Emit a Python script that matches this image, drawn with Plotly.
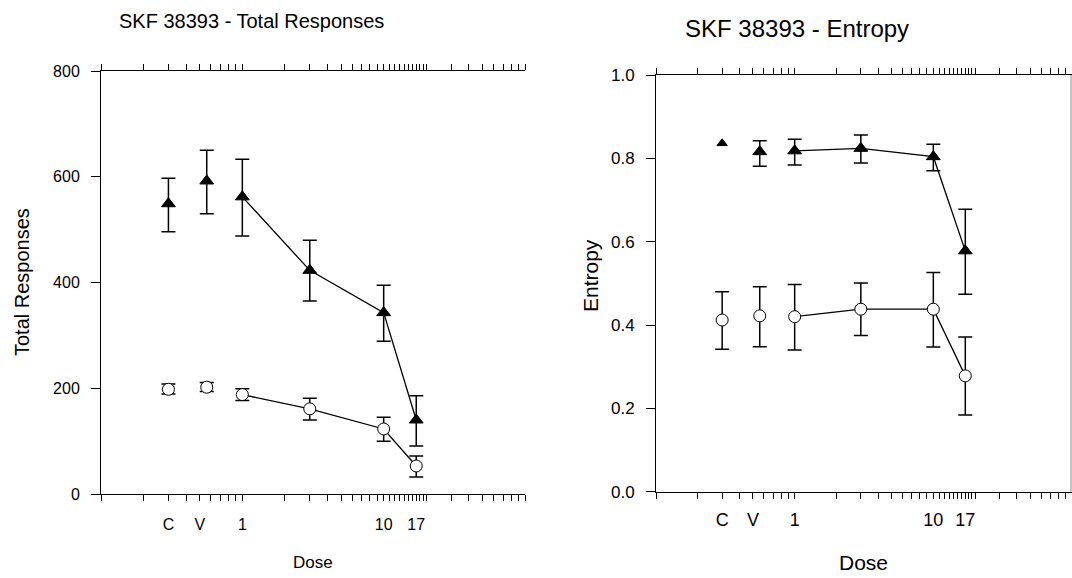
import plotly.graph_objects as go

# ---------------- data ----------------
dose = [0.3, 0.56, 1, 3, 10, 17]          # C, V, 1, 3, 10, 17
x_tick_vals = [0.3, 0.5, 1, 10, 17]
x_tick_text = ["C", "V", "1", "10", "17"]

# Total responses
tr_tri = [549, 592, 562, 423, 343, 140]
tr_tri_hi = [597, 650, 633, 480, 395, 186]
tr_tri_lo = [496, 530, 488, 365, 289, 91]
tr_circ = [198, 202, 188, 161, 123, 53]
tr_circ_hi = [208, 211, 199, 181, 145, 72]
tr_circ_lo = [189, 194, 177, 140, 100, 32]

# Entropy (no error bar on the control triangle)
en_tri = [0.836, 0.816, 0.818, 0.824, 0.804, 0.578]
en_tri_hi = [None, 0.842, 0.846, 0.856, 0.834, 0.678]
en_tri_lo = [None, 0.781, 0.784, 0.789, 0.770, 0.474]
en_circ = [0.412, 0.422, 0.420, 0.438, 0.438, 0.278]
en_circ_hi = [0.480, 0.492, 0.497, 0.501, 0.526, 0.371]
en_circ_lo = [0.342, 0.348, 0.340, 0.375, 0.347, 0.184]

FONT = "Arial, 'Liberation Sans', sans-serif"

minor_vals = ([round(0.1 * i, 2) for i in range(1, 10)] + list(range(2, 10))
              + list(range(11, 20)) + list(range(20, 101, 10)))
minor_vals = [v for v in minor_vals if v not in x_tick_vals]

fig = go.Figure()


def add_series(y, hi, lo, xa, ya, symbol, fill, size, small_size):
    fig.add_trace(go.Scatter(x=dose[2:], y=y[2:], mode="lines", xaxis=xa, yaxis=ya,
                             line=dict(color="black", width=1.3), showlegend=False,
                             hoverinfo="skip"))
    idx_e = [i for i in range(len(dose)) if hi[i] is not None]
    idx_n = [i for i in range(len(dose)) if hi[i] is None]
    fig.add_trace(go.Scatter(
        x=[dose[i] for i in idx_e], y=[y[i] for i in idx_e], mode="markers",
        xaxis=xa, yaxis=ya, showlegend=False,
        marker=dict(symbol=symbol, size=size, color=fill,
                    line=dict(color="black", width=1)),
        error_y=dict(type="data", symmetric=False,
                     array=[hi[i] - y[i] for i in idx_e],
                     arrayminus=[y[i] - lo[i] for i in idx_e],
                     color="black", thickness=1.5, width=7)))
    if idx_n:
        fig.add_trace(go.Scatter(
            x=[dose[i] for i in idx_n], y=[y[i] for i in idx_n], mode="markers",
            xaxis=xa, yaxis=ya, showlegend=False,
            marker=dict(symbol=symbol, size=small_size, color=fill,
                        line=dict(color="black", width=1))))


add_series(tr_tri, tr_tri_hi, tr_tri_lo, "x", "y", "triangle-up", "black", 12, 12)
add_series(tr_circ, tr_circ_hi, tr_circ_lo, "x", "y", "circle", "white", 12, 12)
add_series(en_tri, en_tri_hi, en_tri_lo, "x2", "y2", "triangle-up", "black", 12, 9)
add_series(en_circ, en_circ_hi, en_circ_lo, "x2", "y2", "circle", "white", 12, 12)

H = 578.0
W = 1072.0


def xaxis(domain, fs, anchor, standoff):
    return dict(type="log", range=[-1, 2], domain=domain, anchor=anchor,
                tickmode="array", tickvals=x_tick_vals, ticktext=x_tick_text,
                ticks="outside", ticklen=6, tickwidth=1, tickcolor="black",
                showline=True, linecolor="black", linewidth=1, mirror="ticks",
                showgrid=False, zeroline=False, ticklabelstandoff=standoff,
                automargin=False,
                tickfont=dict(family=FONT, size=fs, color="black"),
                minor=dict(tickmode="array", tickvals=minor_vals, ticks="outside",
                           ticklen=6, tickwidth=1, tickcolor="black", showgrid=False))


def yaxis(domain, rng, dtick, fmt, anchor, fs):
    return dict(range=rng, domain=domain, dtick=dtick, tickformat=fmt, anchor=anchor,
                ticks="outside", ticklen=9, tickwidth=1, tickcolor="black",
                showline=True, linecolor="black", linewidth=1, showgrid=False,
                zeroline=False, ticklabelstandoff=8, automargin=False,
                tickfont=dict(family=FONT, size=fs, color="black"))


fig.update_layout(
    template="none",
    width=1072, height=578, autosize=False,
    margin=dict(l=0, r=0, t=0, b=0, pad=0),
    paper_bgcolor="white", plot_bgcolor="white",
    xaxis=xaxis([101 / W, 525 / W], 16, "y", 10),
    yaxis=yaxis([1 - 494 / H, 1 - 71 / H], [0, 800], 200, "d", "x", 16),
    xaxis2=xaxis([656 / W, 1.0], 18, "y2", 6),
    yaxis2=yaxis([1 - 491.7 / H, 1 - 75 / H], [0, 1], 0.2, ".1f", "x2", 17),
)

annots = [
    ("SKF 38393 - Total Responses", 251, 21, 20, 0),
    ("SKF 38393 - Entropy", 797, 29, 24, 0),
    ("Total Responses", 22, 282, 20, -90),
    ("Entropy", 590, 276, 21, -90),
    ("Dose", 313, 562, 17, 0),
    ("Dose", 863, 562, 21, 0),
]
for text, px, py, fs, ang in annots:
    fig.add_annotation(text=text, x=px / W, y=1 - py / H, xref="paper", yref="paper",
                       showarrow=False, textangle=ang, xanchor="center", yanchor="middle",
                       font=dict(family=FONT, size=fs, color="black"))

fig.add_shape(type="line", xref="paper", yref="paper", x0=1071 / W, x1=1071 / W,
              y0=1 - 491.7 / H, y1=1 - 75 / H, line=dict(color="#888888", width=1))

fig.write_html("out.html")
